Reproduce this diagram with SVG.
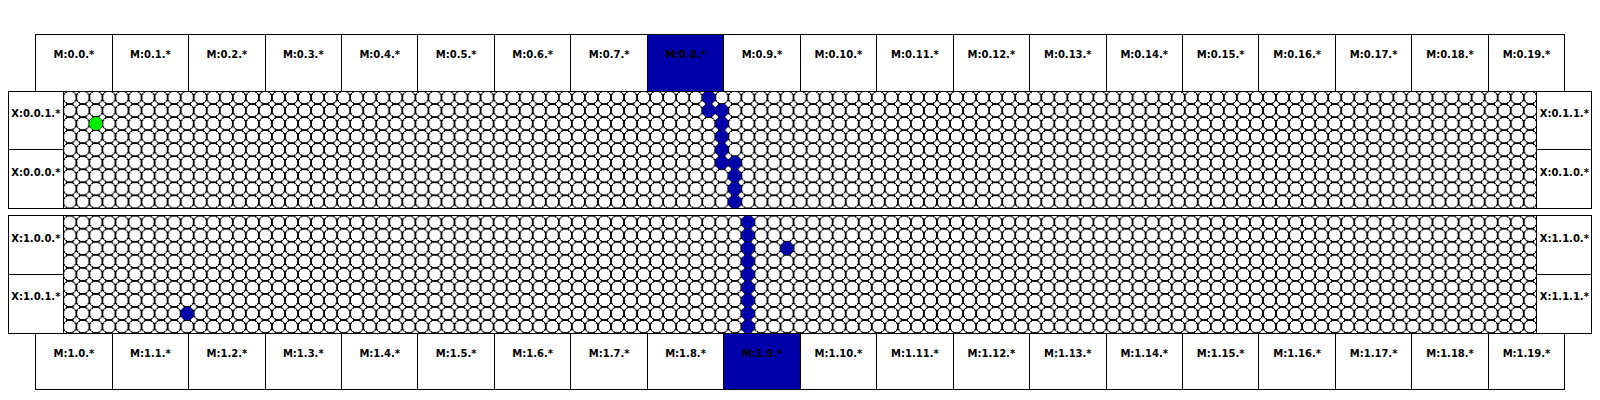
<svg xmlns="http://www.w3.org/2000/svg" width="1600" height="400" viewBox="0 0 1600 400">
<style>
.box{fill:#ffffff;stroke:#000000;stroke-width:1;shape-rendering:crispEdges}
.hl{fill:#0000aa;stroke:#000000;stroke-width:1;shape-rendering:crispEdges}
.lbl{font-family:"DejaVu Sans","Liberation Sans",sans-serif;font-weight:bold;font-size:10px;fill:#000000;text-anchor:middle}
.blue{fill:#0000aa;stroke:#0000aa;stroke-width:1}
.green{fill:#00ee00;stroke:#00ee00;stroke-width:1}
.frame{fill:none;stroke:#000000;stroke-width:1;shape-rendering:crispEdges}
.cell{fill:#ffffff;stroke:#000000;stroke-width:1;shape-rendering:crispEdges}
</style>
<defs>
<pattern id="cells" patternUnits="userSpaceOnUse" x="0" y="0" width="13.04" height="13.04">
<rect width="13.04" height="13.04" fill="#ffffff"/>
<circle class="cell" cx="6.52" cy="6.52" r="6.52"/>
</pattern>
</defs>
<rect width="1600" height="400" fill="#ffffff"/>

<g id="grid0" transform="translate(63.3,91)">
<rect width="1473.52" height="117.36" fill="url(#cells)"/>
<rect class="frame" width="1473.52" height="117.36"/>
</g>
<g id="grid1" transform="translate(63.3,215.7)">
<rect width="1473.52" height="117.36" fill="url(#cells)"/>
<rect class="frame" width="1473.52" height="117.36"/>
</g>

<g id="marks">
<circle class="green" cx="95.9" cy="123.6" r="6.2"/>
<circle class="blue" cx="708.78" cy="97.52" r="6.2"/>
<circle class="blue" cx="708.78" cy="110.56" r="6.2"/>
<circle class="blue" cx="721.82" cy="110.56" r="6.2"/>
<circle class="blue" cx="721.82" cy="123.6" r="6.2"/>
<circle class="blue" cx="721.82" cy="136.64" r="6.2"/>
<circle class="blue" cx="721.82" cy="149.68" r="6.2"/>
<circle class="blue" cx="721.82" cy="162.72" r="6.2"/>
<circle class="blue" cx="734.86" cy="162.72" r="6.2"/>
<circle class="blue" cx="734.86" cy="175.76" r="6.2"/>
<circle class="blue" cx="734.86" cy="188.8" r="6.2"/>
<circle class="blue" cx="734.86" cy="201.84" r="6.2"/>
<circle class="blue" cx="747.9" cy="222.22" r="6.2"/>
<circle class="blue" cx="747.9" cy="235.26" r="6.2"/>
<circle class="blue" cx="747.9" cy="248.3" r="6.2"/>
<circle class="blue" cx="747.9" cy="261.34" r="6.2"/>
<circle class="blue" cx="747.9" cy="274.38" r="6.2"/>
<circle class="blue" cx="747.9" cy="287.42" r="6.2"/>
<circle class="blue" cx="747.9" cy="300.46" r="6.2"/>
<circle class="blue" cx="747.9" cy="313.5" r="6.2"/>
<circle class="blue" cx="747.9" cy="326.54" r="6.2"/>
<circle class="blue" cx="787.02" cy="248.3" r="6.2"/>
<circle class="blue" cx="187.18" cy="313.5" r="6.2"/>
</g>

<g id="xports">
<g id="X_0_0_1"><rect class="box" x="8.3" y="91" width="55" height="58.68"/><text class="lbl" x="35.8" y="117">X:0.0.1.*</text></g>
<g id="X_0_0_0"><rect class="box" x="8.3" y="149.68" width="55" height="58.68"/><text class="lbl" x="35.8" y="175.5">X:0.0.0.*</text></g>
<g id="X_0_1_1"><rect class="box" x="1536.82" y="91" width="55" height="58.68"/><text class="lbl" x="1564.3" y="117">X:0.1.1.*</text></g>
<g id="X_0_1_0"><rect class="box" x="1536.82" y="149.68" width="55" height="58.68"/><text class="lbl" x="1564.3" y="175.5">X:0.1.0.*</text></g>
<g id="X_1_0_0"><rect class="box" x="8.3" y="215.7" width="55" height="58.68"/><text class="lbl" x="35.8" y="241.5">X:1.0.0.*</text></g>
<g id="X_1_0_1"><rect class="box" x="8.3" y="274.38" width="55" height="58.68"/><text class="lbl" x="35.8" y="300.2">X:1.0.1.*</text></g>
<g id="X_1_1_0"><rect class="box" x="1536.82" y="215.7" width="55" height="58.68"/><text class="lbl" x="1564.3" y="241.5">X:1.1.0.*</text></g>
<g id="X_1_1_1"><rect class="box" x="1536.82" y="274.38" width="55" height="58.68"/><text class="lbl" x="1564.3" y="300.2">X:1.1.1.*</text></g>
</g>

<g id="mtop">
<g id="M_0_0"><rect class="box" x="35.7" y="34.3" width="76.45" height="56.7"/><text class="lbl" x="73.93" y="57.5">M:0.0.*</text></g>
<g id="M_0_1"><rect class="box" x="112.15" y="34.3" width="76.45" height="56.7"/><text class="lbl" x="150.38" y="57.5">M:0.1.*</text></g>
<g id="M_0_2"><rect class="box" x="188.6" y="34.3" width="76.45" height="56.7"/><text class="lbl" x="226.83" y="57.5">M:0.2.*</text></g>
<g id="M_0_3"><rect class="box" x="265.05" y="34.3" width="76.45" height="56.7"/><text class="lbl" x="303.28" y="57.5">M:0.3.*</text></g>
<g id="M_0_4"><rect class="box" x="341.5" y="34.3" width="76.45" height="56.7"/><text class="lbl" x="379.73" y="57.5">M:0.4.*</text></g>
<g id="M_0_5"><rect class="box" x="417.95" y="34.3" width="76.45" height="56.7"/><text class="lbl" x="456.18" y="57.5">M:0.5.*</text></g>
<g id="M_0_6"><rect class="box" x="494.4" y="34.3" width="76.45" height="56.7"/><text class="lbl" x="532.63" y="57.5">M:0.6.*</text></g>
<g id="M_0_7"><rect class="box" x="570.85" y="34.3" width="76.45" height="56.7"/><text class="lbl" x="609.08" y="57.5">M:0.7.*</text></g>
<g id="M_0_8"><rect class="hl" x="647.3" y="34.3" width="76.45" height="56.7"/><text class="lbl" x="685.53" y="57.5">M:0.8.*</text></g>
<g id="M_0_9"><rect class="box" x="723.75" y="34.3" width="76.45" height="56.7"/><text class="lbl" x="761.98" y="57.5">M:0.9.*</text></g>
<g id="M_0_10"><rect class="box" x="800.2" y="34.3" width="76.45" height="56.7"/><text class="lbl" x="838.43" y="57.5">M:0.10.*</text></g>
<g id="M_0_11"><rect class="box" x="876.65" y="34.3" width="76.45" height="56.7"/><text class="lbl" x="914.88" y="57.5">M:0.11.*</text></g>
<g id="M_0_12"><rect class="box" x="953.1" y="34.3" width="76.45" height="56.7"/><text class="lbl" x="991.33" y="57.5">M:0.12.*</text></g>
<g id="M_0_13"><rect class="box" x="1029.55" y="34.3" width="76.45" height="56.7"/><text class="lbl" x="1067.78" y="57.5">M:0.13.*</text></g>
<g id="M_0_14"><rect class="box" x="1106" y="34.3" width="76.45" height="56.7"/><text class="lbl" x="1144.23" y="57.5">M:0.14.*</text></g>
<g id="M_0_15"><rect class="box" x="1182.45" y="34.3" width="76.45" height="56.7"/><text class="lbl" x="1220.68" y="57.5">M:0.15.*</text></g>
<g id="M_0_16"><rect class="box" x="1258.9" y="34.3" width="76.45" height="56.7"/><text class="lbl" x="1297.13" y="57.5">M:0.16.*</text></g>
<g id="M_0_17"><rect class="box" x="1335.35" y="34.3" width="76.45" height="56.7"/><text class="lbl" x="1373.58" y="57.5">M:0.17.*</text></g>
<g id="M_0_18"><rect class="box" x="1411.8" y="34.3" width="76.45" height="56.7"/><text class="lbl" x="1450.03" y="57.5">M:0.18.*</text></g>
<g id="M_0_19"><rect class="box" x="1488.25" y="34.3" width="76.45" height="56.7"/><text class="lbl" x="1526.48" y="57.5">M:0.19.*</text></g>
</g>

<g id="mbottom">
<g id="M_1_0"><rect class="box" x="35.7" y="333.06" width="76.45" height="56.9"/><text class="lbl" x="73.93" y="356.6">M:1.0.*</text></g>
<g id="M_1_1"><rect class="box" x="112.15" y="333.06" width="76.45" height="56.9"/><text class="lbl" x="150.38" y="356.6">M:1.1.*</text></g>
<g id="M_1_2"><rect class="box" x="188.6" y="333.06" width="76.45" height="56.9"/><text class="lbl" x="226.83" y="356.6">M:1.2.*</text></g>
<g id="M_1_3"><rect class="box" x="265.05" y="333.06" width="76.45" height="56.9"/><text class="lbl" x="303.28" y="356.6">M:1.3.*</text></g>
<g id="M_1_4"><rect class="box" x="341.5" y="333.06" width="76.45" height="56.9"/><text class="lbl" x="379.73" y="356.6">M:1.4.*</text></g>
<g id="M_1_5"><rect class="box" x="417.95" y="333.06" width="76.45" height="56.9"/><text class="lbl" x="456.18" y="356.6">M:1.5.*</text></g>
<g id="M_1_6"><rect class="box" x="494.4" y="333.06" width="76.45" height="56.9"/><text class="lbl" x="532.63" y="356.6">M:1.6.*</text></g>
<g id="M_1_7"><rect class="box" x="570.85" y="333.06" width="76.45" height="56.9"/><text class="lbl" x="609.08" y="356.6">M:1.7.*</text></g>
<g id="M_1_8"><rect class="box" x="647.3" y="333.06" width="76.45" height="56.9"/><text class="lbl" x="685.53" y="356.6">M:1.8.*</text></g>
<g id="M_1_9"><rect class="hl" x="723.75" y="333.06" width="76.45" height="56.9"/><text class="lbl" x="761.98" y="356.6">M:1.9.*</text></g>
<g id="M_1_10"><rect class="box" x="800.2" y="333.06" width="76.45" height="56.9"/><text class="lbl" x="838.43" y="356.6">M:1.10.*</text></g>
<g id="M_1_11"><rect class="box" x="876.65" y="333.06" width="76.45" height="56.9"/><text class="lbl" x="914.88" y="356.6">M:1.11.*</text></g>
<g id="M_1_12"><rect class="box" x="953.1" y="333.06" width="76.45" height="56.9"/><text class="lbl" x="991.33" y="356.6">M:1.12.*</text></g>
<g id="M_1_13"><rect class="box" x="1029.55" y="333.06" width="76.45" height="56.9"/><text class="lbl" x="1067.78" y="356.6">M:1.13.*</text></g>
<g id="M_1_14"><rect class="box" x="1106" y="333.06" width="76.45" height="56.9"/><text class="lbl" x="1144.23" y="356.6">M:1.14.*</text></g>
<g id="M_1_15"><rect class="box" x="1182.45" y="333.06" width="76.45" height="56.9"/><text class="lbl" x="1220.68" y="356.6">M:1.15.*</text></g>
<g id="M_1_16"><rect class="box" x="1258.9" y="333.06" width="76.45" height="56.9"/><text class="lbl" x="1297.13" y="356.6">M:1.16.*</text></g>
<g id="M_1_17"><rect class="box" x="1335.35" y="333.06" width="76.45" height="56.9"/><text class="lbl" x="1373.58" y="356.6">M:1.17.*</text></g>
<g id="M_1_18"><rect class="box" x="1411.8" y="333.06" width="76.45" height="56.9"/><text class="lbl" x="1450.03" y="356.6">M:1.18.*</text></g>
<g id="M_1_19"><rect class="box" x="1488.25" y="333.06" width="76.45" height="56.9"/><text class="lbl" x="1526.48" y="356.6">M:1.19.*</text></g>
</g>
</svg>
